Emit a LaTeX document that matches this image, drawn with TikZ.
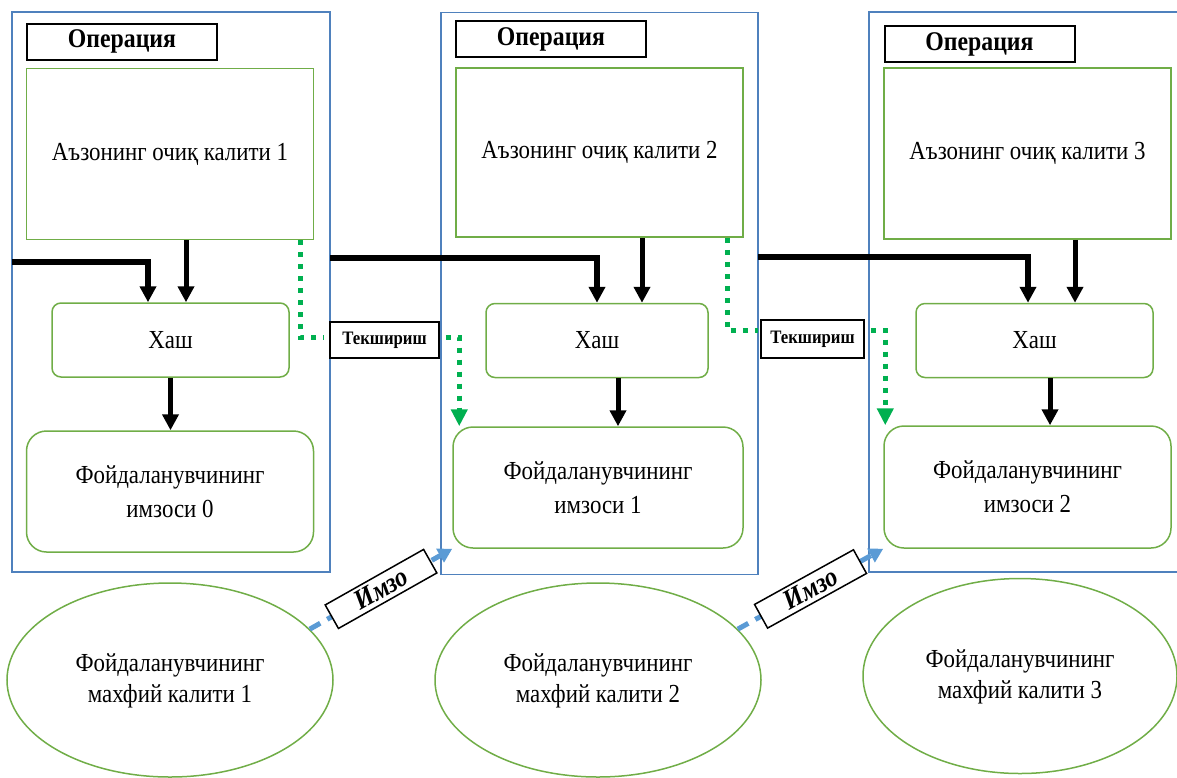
\documentclass[tikz,border=0pt]{standalone}
\usepackage{fontspec}
\setmainfont{Liberation Serif}[FakeStretch=0.88]
\usetikzlibrary{arrows.meta,shapes.geometric}
\definecolor{blkblue}{RGB}{79,129,189}
\definecolor{boxgreen}{RGB}{112,173,71}
\definecolor{dotgreen}{RGB}{0,176,80}
\definecolor{dashblue}{RGB}{91,155,213}
\begin{document}
\begin{tikzpicture}[x=1pt,y=-1pt,
  blk/.style={draw=blkblue,line width=1.5pt,inner sep=0pt},
  op/.style={draw=black,line width=2pt,fill=white,inner sep=0pt,minimum width=190pt,minimum height=36pt,font=\bfseries\fontsize{27}{30}\selectfont},
  pubkey/.style={draw=boxgreen,line width=1.5pt,inner sep=0pt,minimum width=287pt,minimum height=171pt,font=\fontsize{26}{33}\selectfont},
  hashbox/.style={draw=boxgreen,line width=1.5pt,rounded corners=9pt,inner sep=0pt,minimum width=237pt,minimum height=74pt,font=\fontsize{26}{33}\selectfont},
  sigbox/.style={draw=boxgreen,line width=1.5pt,rounded corners=20pt,inner sep=0pt,minimum width=287pt,minimum height=121pt,align=center,font=\fontsize{26}{34}\selectfont},
  privkey/.style={ellipse,draw=boxgreen,line width=1.5pt,inner sep=0pt,minimum width=326pt,minimum height=194pt,align=center,font=\fontsize{26}{31}\selectfont},
  chkbox/.style={draw=black,line width=1.5pt,fill=white,inner sep=0pt,minimum width=109pt,minimum height=36pt,font=\bfseries\fontsize{19}{22}\selectfont},
  signbox/.style={draw=black,solid,line width=1.5pt,fill=white,inner sep=0pt,minimum width=113pt,minimum height=27pt,font=\bfseries\itshape\fontsize{28}{30}\selectfont},
  flow/.style={line width=5pt,-{Triangle[width=16pt,length=16pt]}},
  bus/.style={line width=5.5pt,-{Triangle[width=16pt,length=16pt]}},
  verify/.style={draw=dotgreen,line width=5pt,dash pattern=on 5pt off 7pt},
  signline/.style={draw=dashblue,line width=5pt,dash pattern=on 12pt off 8pt,-{Triangle[width=15pt,length=14pt]}}]
  \useasboundingbox (0,0) rectangle (1177,777);

  \node[blk,minimum width=318pt,minimum height=560pt] (blk1) at (171,292) {};
  \node[blk,minimum width=317pt,minimum height=562pt] (blk2) at (599.5,293.5) {};
  \node[blk,minimum width=321pt,minimum height=560pt] (blk3) at (1029.5,292) {};

  \coordinate (bus1) at (12,262);
  \coordinate (bus2) at (330,258);
  \coordinate (bus3) at (758,257);

  \node[op] (op1) at (122,41.5) {Операция};
  \node[op] (op2) at (551,39) {Операция};
  \node[op] (op3) at (979.5,44) {Операция};

  \node[pubkey] (key1) at (170,154) {Аъзонинг очиқ калити 1};
  \node[pubkey,minimum height=169pt] (key2) at (599.5,152.5) {Аъзонинг очиқ калити 2};
  \node[pubkey] (key3) at (1027.5,153.5) {Аъзонинг очиқ калити 3};

  \node[hashbox] (hash1) at (170.5,340) {Хаш};
  \node[hashbox,minimum width=222pt] (hash2) at (597,340.5) {Хаш};
  \node[hashbox] (hash3) at (1034.5,340.5) {Хаш};

  \node[sigbox] (sig1) at (170,491.5) {Фойдаланувчининг\\имзоси 0};
  \node[sigbox,minimum width=290pt] (sig2) at (598,487.5) {Фойдаланувчининг\\имзоси 1};
  \node[sigbox,minimum height=122pt] (sig3) at (1027.5,487) {Фойдаланувчининг\\имзоси 2};

  \node[privkey] (priv1) at (170,680) {\\[-12pt]Фойдаланувчининг\\махфий калити 1};
  \node[privkey] (priv2) at (598,680) {\\[-12pt]Фойдаланувчининг\\махфий калити 2};
  \node[privkey,minimum width=314pt,minimum height=195pt] (priv3) at (1020,676) {\\[-12pt]Фойдаланувчининг\\махфий калити 3};

  \draw[bus] (bus1) -| ([xshift=-22.5pt]hash1.north);
  \draw[bus] (bus2) -| (hash2.north);
  \draw[bus] (bus3) -| ([xshift=-6.5pt]hash3.north);

  \draw[flow] ([xshift=16pt]key1.south) -- ([xshift=16pt]key1.south |- hash1.north);
  \draw[flow] ([xshift=42.5pt]key2.south) -- ([xshift=42.5pt]key2.south |- hash2.north);
  \draw[flow] ([xshift=47.5pt]key3.south) -- ([xshift=47.5pt]key3.south |- hash3.north);

  \draw[flow] (hash1.south) -- (hash1.south |- sig1.north);
  \draw[flow] ([xshift=21pt]hash2.south) -- ([xshift=21pt]hash2.south |- sig2.north);
  \draw[flow] ([xshift=15.5pt]hash3.south) -- ([xshift=15.5pt]hash3.south |- sig3.north);

  \node[chkbox] (chk1) at (384.5,340) {Текшириш};
  \node[chkbox,minimum width=103pt,minimum height=38pt] (chk2) at (812.5,339) {Текшириш};

  \draw[verify] ([xshift=130pt]key1.south) |- ([xshift=-5pt,yshift=3pt]chk1.west);
  \draw[verify,-{Triangle[width=16pt,length=17pt]}] ([xshift=6pt,yshift=3pt]chk1.east) -| ([xshift=7pt]sig2.north west);
  \draw[verify] ([xshift=127.5pt]key2.south) |- ([xshift=-2pt,yshift=9pt]chk2.west);
  \draw[verify,-{Triangle[width=16pt,length=17pt]}] ([xshift=6pt,yshift=9pt]chk2.east) -| ([xshift=2pt]sig3.north west);

  \draw[signline] (priv1.20) -- node[signbox,sloped] (sign1) {Имзо} (sig2.south west);
  \draw[signline] (priv2.20) -- node[signbox,sloped] (sign2) {Имзо} (sig3.south west);
\end{tikzpicture}
\end{document}
